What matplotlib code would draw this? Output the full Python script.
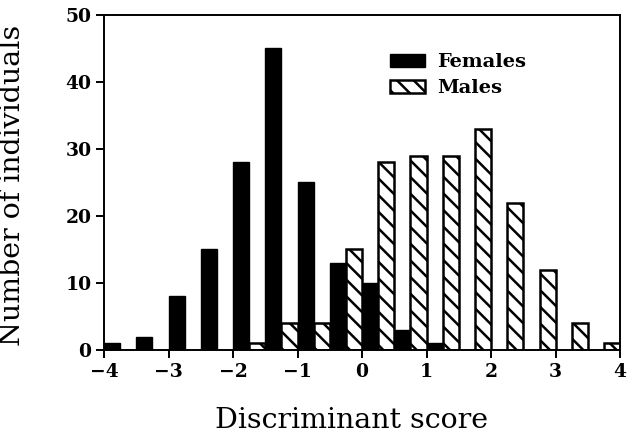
import matplotlib
matplotlib.use("Agg")
import matplotlib.pyplot as plt
import numpy as np

bin_starts = [-4.0, -3.5, -3.0, -2.5, -2.0, -1.5, -1.0, -0.5, 0.0, 0.5, 1.0, 1.5, 2.0, 2.5, 3.0, 3.5]
females = [1, 2, 8, 15, 28, 45, 25, 13, 10, 3, 1, 0, 0, 0, 0, 0]
males = [0, 0, 0, 0, 1, 4, 4, 15, 28, 29, 29, 33, 22, 12, 4, 1]
xticks = [-4, -3, -2, -1, 0, 1, 2, 3, 4]
yticks = [0, 10, 20, 30, 40, 50]

plt.rcParams['hatch.linewidth'] = 1.8
fig = plt.figure(figsize=(6.42, 4.38), dpi=100)
ax = fig.add_axes([0.162, 0.2009, 0.804, 0.7649])

w = 0.25
bs = np.array(bin_starts)
fem_mask = np.array(females) > 0
mal_mask = np.array(males) > 0
ax.bar(bs[fem_mask], np.array(females)[fem_mask], width=w, align='edge',
       color='black', edgecolor='black', linewidth=1.0, label='Females')
ax.bar(bs[mal_mask] + w, np.array(males)[mal_mask], width=w, align='edge',
       color='white', edgecolor='black', linewidth=1.8, hatch='\\\\', label='Males')

ax.set_xlim(-4, 4)
ax.set_ylim(0, 50)
ax.set_xticks(xticks)
ax.set_yticks(yticks)
ax.set_xticklabels([str(t).replace('-', '\u2212') for t in xticks])
for s in ax.spines.values():
    s.set_linewidth(1.4)
ax.tick_params(direction='out', length=6, width=1.4, labelsize=13.5, pad=3)
for lab in ax.get_xticklabels() + ax.get_yticklabels():
    lab.set_fontfamily('DejaVu Serif')
    lab.set_fontweight('bold')

ax.set_xlabel('Discriminant score', fontsize=20.5, family='DejaVu Serif')
ax.xaxis.set_label_coords(0.48, -0.17)
ax.set_ylabel('Number of individuals', fontsize=20.5, family='DejaVu Serif')
ax.yaxis.set_label_coords(-0.152, 0.49)

leg = ax.legend(loc='upper left', bbox_to_anchor=(0.554, 0.886), frameon=False,
                prop={'family': 'DejaVu Serif', 'weight': 'bold', 'size': 14},
                handlelength=1.8, handleheight=0.65, handletextpad=0.65,
                labelspacing=0.4, borderpad=0, borderaxespad=0)

fig.savefig('out.png', dpi=100)
